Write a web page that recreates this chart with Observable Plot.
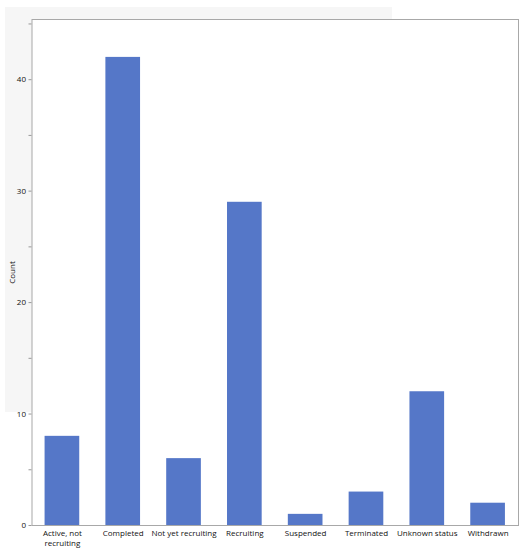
<!DOCTYPE html>
<html>
<head>
<meta charset="utf-8">
<script src="https://cdn.jsdelivr.net/npm/d3@7"></script>
<script src="https://cdn.jsdelivr.net/npm/@observablehq/plot@0.6"></script>
<style>
  html, body { margin: 0; padding: 0; background: white; }
  #wrap { position: relative; width: 527px; height: 550px; }
  #bg { position: absolute; left: 5px; top: 7px; width: 387px; height: 405px; background: #f6f6f6; }
  #chart { position: absolute; left: 0; top: 0; }
</style>
</head>
<body>
<div id="wrap"><div id="bg"></div><div id="chart"></div></div>
<script>
const categories = ["Active, not recruiting", "Completed", "Not yet recruiting", "Recruiting", "Suspended", "Terminated", "Unknown status", "Withdrawn"];
const counts = [8, 42, 6, 29, 1, 3, 12, 2];
const tickLabels = ["Active, not\nrecruiting", "Completed", "Not yet recruiting", "Recruiting", "Suspended", "Terminated", "Unknown status", "Withdrawn"];
const majorTicks = [0, 10, 20, 30, 40];
const minorTicks = [5, 15, 25, 35, 45];

const data = categories.map((c, i) => ({category: c, count: counts[i]}));
const labelOf = new Map(categories.map((c, i) => [c, tickLabels[i]]));

const chart = Plot.plot({
  width: 527,
  height: 550,
  marginLeft: 31.5,
  marginTop: 19,
  marginRight: 9,
  marginBottom: 25,
  style: {background: "transparent", fontFamily: "'Open Sans', 'Noto Sans', sans-serif", fontSize: "8px", color: "#111"},
  x: {domain: categories, paddingInner: 0.43, paddingOuter: 0.215, round: false},
  y: {domain: [0, 45.4]},
  marks: [
    Plot.frame({fill: "white", stroke: "#a8a8a8"}),
    Plot.barY(data, {x: "category", y: "count", fill: "#5577c8"}),
    Plot.axisX({tickSize: 0, tickPadding: 3, tickFormat: d => labelOf.get(d), label: null, lineHeight: 1.25}),
    Plot.axisY({ticks: majorTicks, tickSize: 3, tickPadding: 3, stroke: "#999", label: "Count", labelAnchor: "center", labelArrow: "none", labelOffset: 23}),
    Plot.axisY({ticks: minorTicks, tickSize: 3, text: null, stroke: "#999", label: null})
  ]
});
document.getElementById("chart").appendChild(chart);
</script>
</body>
</html>
